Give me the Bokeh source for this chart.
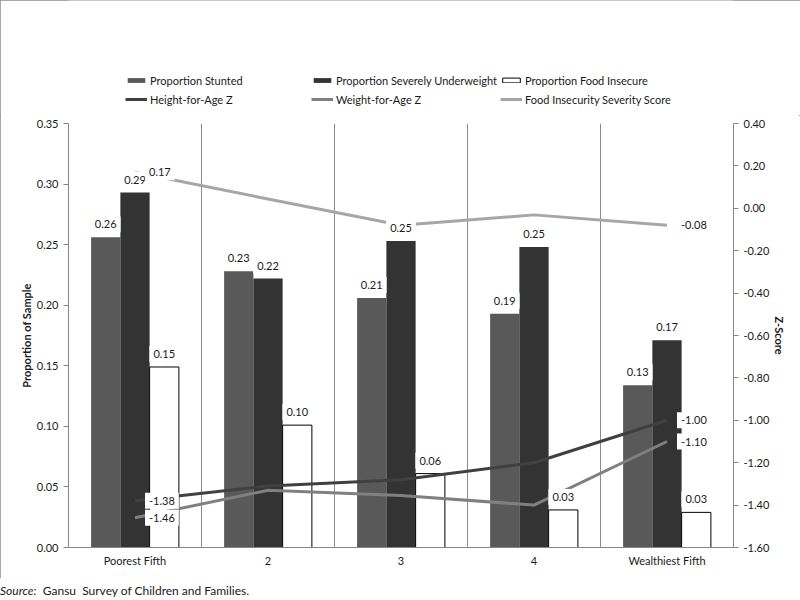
from bokeh.plotting import figure
from bokeh.models import (Range1d, LinearAxis, FixedTicker, NumeralTickFormatter,
                          Grid, Legend, LegendItem, ColumnDataSource, Div)
from bokeh.layouts import column
from bokeh.core.properties import value
from bokeh.embed import file_html
from bokeh.resources import INLINE

categories = ["Poorest Fifth", "2", "3", "4", "Wealthiest Fifth"]
prop_stunted = [0.256, 0.228, 0.206, 0.193, 0.134]
prop_sev_underweight = [0.293, 0.222, 0.253, 0.248, 0.171]
prop_food_insecure = [0.149, 0.101, 0.061, 0.031, 0.029]
height_for_age_z = [-1.38, -1.31, -1.28, -1.20, -1.00]
weight_for_age_z = [-1.46, -1.33, -1.355, -1.40, -1.10]
food_insecurity_score = [0.17, 0.044, -0.08, -0.031, -0.08]
left_ticks = [0.00, 0.05, 0.10, 0.15, 0.20, 0.25, 0.30, 0.35]
right_ticks = [-1.60, -1.40, -1.20, -1.00, -0.80, -0.60, -0.40, -0.20, 0.00, 0.20, 0.40]
labelled_points = [0, 4]
series_names = ["Proportion Stunted", "Proportion Severely Underweight", "Proportion Food Insecure",
                "Height-for-Age Z", "Weight-for-Age Z", "Food Insecurity Severity Score"]

FONT = "Lato"
TXT = "#1a1a1a"
AX = "#868686"
C_ST, C_SU = "#595959", "#333333"
C_HAZ, C_WAZ, C_FIS = "#404040", "#808080", "#a6a6a6"
n = len(categories)
xc = [i + 0.5 for i in range(n)]
bw = 0.22
TOP_H = 115

src = ColumnDataSource(dict(
    x1=[x - bw for x in xc], x2=xc, x3=[x + bw for x in xc],
    st=prop_stunted, su=prop_sev_underweight, fi=prop_food_insecure,
    st_l=[f"{v:.2f}" for v in prop_stunted],
    su_l=[f"{v:.2f}" for v in prop_sev_underweight],
    fi_l=[f"{v:.2f}" for v in prop_food_insecure],
    haz=height_for_age_z, waz=weight_for_age_z, fis=food_insecurity_score,
))

# ---------------- legend strip (its glyphs are outside its view) ----------------
lf = figure(width=800, height=TOP_H, output_backend="svg", toolbar_location=None,
            x_range=Range1d(10 * n, 10 * n + 1), y_range=Range1d(10, 11),
            min_border_left=68, min_border_right=67, min_border_top=0, min_border_bottom=0)
lf.axis.visible = False
lf.grid.visible = False
lf.outline_line_color = None
lf.background_fill_color = "white"
lf.border_fill_color = "white"
lg_st = lf.vbar(x="x1", top="st", width=bw, source=src, fill_color=C_ST, line_color=None)
lg_su = lf.vbar(x="x2", top="su", width=bw, source=src, fill_color=C_SU, line_color=None)
lg_fi = lf.vbar(x="x3", top="fi", width=bw, source=src, fill_color="white",
                line_color="#000000", line_width=1)
lg_haz = lf.line(x="x2", y="haz", source=src, line_color=C_HAZ, line_width=3)
lg_waz = lf.line(x="x2", y="waz", source=src, line_color=C_WAZ, line_width=3)
lg_fis = lf.line(x="x2", y="fis", source=src, line_color=C_FIS, line_width=3)
legend = Legend(items=[LegendItem(label=lab, renderers=[r]) for lab, r in
                       zip(series_names, [lg_st, lg_su, lg_fi, lg_haz, lg_waz, lg_fis])],
                ncols=3, orientation="horizontal", location=(57, 8),
                glyph_width=22, glyph_height=6, label_standoff=3, label_width=158, label_height=16,
                spacing=3, padding=0, margin=0, border_line_color=None, background_fill_alpha=0,
                label_text_font=FONT, label_text_font_size="11px", label_text_color=TXT)
lf.add_layout(legend, "center")

# ---------------- main chart ----------------
p = figure(width=800, height=578 - TOP_H, output_backend="svg", toolbar_location=None,
           x_range=Range1d(0, n), y_range=Range1d(left_ticks[0], left_ticks[-1]),
           min_border_left=68, min_border_right=67, min_border_top=123 - TOP_H, min_border_bottom=31)
p.extra_y_ranges = {"z": Range1d(right_ticks[0], right_ticks[-1])}
p.outline_line_color = None
p.background_fill_color = "white"
p.border_fill_color = "white"
p.xgrid.visible = False
p.ygrid.visible = False

xa = p.xaxis[0]
xa.ticker = FixedTicker(ticks=xc)
xa.major_label_overrides = {x: c for x, c in zip(xc, categories)}
xa.axis_line_color = AX
xa.major_tick_line_color = None
xa.minor_tick_line_color = None
xa.major_tick_out = 0
xa.major_tick_in = 0
xa.major_label_standoff = 6
xa.major_label_text_font = FONT
xa.major_label_text_font_size = "11px"
xa.major_label_text_color = TXT

ya = p.yaxis[0]
ya.ticker = FixedTicker(ticks=left_ticks)
ya.formatter = NumeralTickFormatter(format="0.00")
ya.axis_label = "Proportion of Sample"

ra = LinearAxis(y_range_name="z", ticker=FixedTicker(ticks=right_ticks),
                formatter=NumeralTickFormatter(format="0.00"), axis_label="Z-Score")
p.add_layout(ra, "right")

for ax in (ya, ra):
    ax.axis_line_color = AX
    ax.major_tick_line_color = AX
    ax.major_tick_out = 5
    ax.major_tick_in = 0
    ax.minor_tick_line_color = None
    ax.major_label_standoff = 5
    ax.major_label_text_font = FONT
    ax.major_label_text_font_size = "11px"
    ax.major_label_text_color = TXT
    ax.axis_label_text_font = FONT
    ax.axis_label_text_font_style = "bold"
    ax.axis_label_text_font_size = "11px"
    ax.axis_label_text_color = TXT
    ax.axis_label_standoff = 1

p.add_layout(Grid(dimension=0, ticker=FixedTicker(ticks=list(range(1, n))),
                  grid_line_color="#8c8c8c", grid_line_width=1))

p.vbar(x="x1", top="st", bottom=0, width=bw, source=src, fill_color=C_ST, line_color=None)
p.vbar(x="x2", top="su", bottom=0, width=bw, source=src, fill_color=C_SU, line_color=None)
p.vbar(x="x3", top="fi", bottom=0, width=bw, source=src, fill_color="white",
       line_color="#000000", line_width=1)

p.line(x="x2", y="haz", source=src, y_range_name="z", line_color=C_HAZ, line_width=3)
p.line(x="x2", y="waz", source=src, y_range_name="z", line_color=C_WAZ, line_width=3)
p.line(x="x2", y="fis", source=src, y_range_name="z", line_color=C_FIS, line_width=3)

for xcol, ycol, lcol in [("x1", "st", "st_l"), ("x2", "su", "su_l"), ("x3", "fi", "fi_l")]:
    p.text(x=xcol, y=ycol, text=lcol, source=src, text_align="center", text_baseline="bottom",
           y_offset=-5, text_font=value(FONT), text_font_size="11px", text_color=TXT,
           background_fill_color="white", padding=4)

for series in [height_for_age_z, weight_for_age_z, food_insecurity_score]:
    lsrc = ColumnDataSource(dict(
        x=[xc[i] for i in labelled_points],
        y=[series[i] for i in labelled_points],
        t=[f"{series[i]:.2f}" for i in labelled_points],
    ))
    p.text(x="x", y="y", text="t", source=lsrc, y_range_name="z", text_align="left",
           text_baseline="middle", x_offset=10, text_font=value(FONT), text_font_size="11px",
           text_color=TXT, background_fill_color="white", padding=4)

chart = column(lf, p, spacing=0,
               styles={"outline": "1px solid #8c8c8c", "outline-offset": "-1px"})

source_note = Div(
    text=('<div style="padding-top:4px; font-family: Lato; font-size: 12px; color: #1a1a1a; '
          'white-space: pre;"><i>Source:</i>  Gansu  Survey of Children and Families.</div>'),
    width=800, height=22, margin=0)

layout = column(chart, source_note, spacing=0)
open("out.html", "w").write(file_html(layout, INLINE))
